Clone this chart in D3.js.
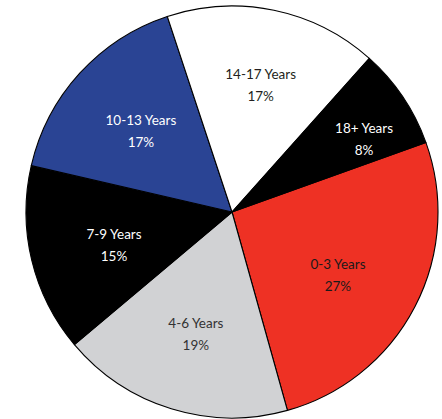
<!DOCTYPE html>
<html>
<head>
<meta charset="utf-8">
<script src="https://cdn.jsdelivr.net/npm/d3@7"></script>
<style>
  html, body { margin: 0; padding: 0; background: #ffffff; }
  svg { display: block; }
</style>
</head>
<body>
<svg id="chart" width="442" height="419"></svg>
<script>
// Data
const categories = ["0-3 Years", "4-6 Years", "7-9 Years", "10-13 Years", "14-17 Years", "18+ Years"];
const shares = [26.15, 18.2, 14.75, 16.3, 16.7, 7.9];           // slice sizes
const percentLabels = ["27%", "19%", "15%", "17%", "17%", "8%"];  // printed labels
const colors = ["#ee3124", "#d1d2d4", "#000000", "#2a4494", "#ffffff", "#000000"];
const textColors = ["#1a1a1a", "#333333", "#ffffff", "#ffffff", "#231f20", "#ffffff"];

// Layout (not data): label nudges in px relative to the mid-angle anchor
const labelNudge = {
  "0-3 Years": [-6, 5.5],
  "4-6 Years": [1, 2],
  "7-9 Years": [4.5, 4],
  "10-13 Years": [2, 4],
  "14-17 Years": [3, -4],
  "18+ Years": [6, 11.5]
};

const width = 442, height = 419;
const cx = 232, cy = 212, radius = 206;
const startDeg = 70.25;

const svg = d3.select("#chart");
const g = svg.append("g").attr("transform", `translate(${cx},${cy})`);

const data = categories.map((c, i) => ({ cat: c, value: shares[i], pct: percentLabels[i], color: colors[i], tc: textColors[i] }));

const pie = d3.pie()
  .value(d => d.value)
  .sort(null)
  .startAngle(startDeg * Math.PI / 180)
  .endAngle(startDeg * Math.PI / 180 + 2 * Math.PI);

const arcs = pie(data);
const arc = d3.arc().innerRadius(0).outerRadius(radius);

g.selectAll("path.slice")
  .data(arcs)
  .join("path")
  .attr("class", "slice")
  .attr("d", arc)
  .attr("fill", d => d.data.color)
  .attr("stroke", "#000")
  .attr("stroke-width", 1.1)
  .attr("stroke-linejoin", "round");

function labelR(d) {
  const span = d.endAngle - d.startAngle;
  return span < 0.6 ? 152 : 126;
}

const labels = g.selectAll("g.lbl")
  .data(arcs)
  .join("g")
  .attr("class", "lbl")
  .attr("transform", d => {
    const a = (d.startAngle + d.endAngle) / 2;
    const r = labelR(d);
    const n = labelNudge[d.data.cat] || [0, 0];
    return `translate(${r * Math.sin(a) + n[0]},${-r * Math.cos(a) + n[1]})`;
  });

labels.append("text")
  .attr("text-anchor", "middle")
  .attr("y", -6)
  .attr("fill", d => d.data.tc)
  .style("font-family", "Lato, 'Open Sans', sans-serif")
  .style("font-size", "13.5px")
  .text(d => d.data.cat);

labels.append("text")
  .attr("text-anchor", "middle")
  .attr("y", 16)
  .attr("fill", d => d.data.tc)
  .style("font-family", "Lato, 'Open Sans', sans-serif")
  .style("font-size", "13.5px")
  .text(d => d.data.pct);
</script>
</body>
</html>
